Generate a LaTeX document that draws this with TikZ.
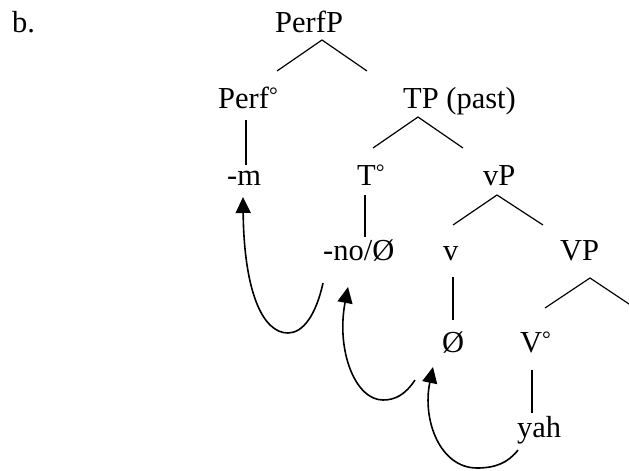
\documentclass[tikz,border=0pt]{standalone}
\usepackage{fontspec}
\setmainfont{Liberation Serif}
\usepackage{graphicx}
\usetikzlibrary{arrows.meta}
\newcommand{\dg}{\raisebox{0.17em}{\scalebox{0.72}{°}}}
\begin{document}
\begin{tikzpicture}[x=1pt,y=-1pt,
  lab/.style={anchor=base west,inner sep=0pt,font=\fontsize{30.5}{36}\selectfont},
  br/.style={line width=1.2pt},
  mv/.style={line width=1.6pt,-{Triangle[length=16pt,width=15pt]}}]
\useasboundingbox (0,0) rectangle (629,471);
\clip (0,0) rectangle (629,471);
% labels
\node[lab] (b) at (12,32) {b.};
\node[lab] (PerfP) at (275,32) {PerfP};
\node[lab] (Perf) at (218,108) {Perf\dg};
\node[lab] (TP) at (403,108) {TP (past)};
\node[lab] (m) at (227,185) {-m};
\node[lab] (T) at (357,185) {T\dg};
\node[lab] (vP) at (483,185) {vP};
\node[lab] (no) at (323,260) {-no/Ø};
\node[lab] (v) at (443,260) {v};
\node[lab] (VP) at (560,260) {VP};
\node[lab] (vnull) at (442,352) {Ø};
\node[lab] (V) at (520,352) {V\dg};
\node[lab] (yah) at (517,437) {yah};
% branch coordinates
\coordinate (PerfPa) at (322,40);
\coordinate (PerfPl) at (277,71);
\coordinate (PerfPr) at (367,71);
\coordinate (TPa) at (418,117);
\coordinate (TPl) at (373,148);
\coordinate (TPr) at (463,148);
\coordinate (vPa) at (497,195);
\coordinate (vPl) at (453,225);
\coordinate (vPr) at (543,225);
\coordinate (VPa) at (590,278);
\coordinate (VPl) at (545,308);
\coordinate (VPr) at (635,308);
\draw[br] (PerfPl) -- (PerfPa) -- (PerfPr);
\draw[br] (TPl) -- (TPa) -- (TPr);
\draw[br] (vPl) -- (vPa) -- (vPr);
\draw[br] (VPl) -- (VPa) -- (VPr);
% unary lines
\coordinate (Perft) at (246,120); \coordinate (Perfb) at (246,165);
\coordinate (Tt) at (365,195); \coordinate (Tb) at (365,237);
\coordinate (vt) at (453,277); \coordinate (vb) at (453,320);
\coordinate (Vt) at (532,370); \coordinate (Vb) at (532,413);
\draw[br] (Perft) -- (Perfb);
\draw[br] (Tt) -- (Tb);
\draw[br] (vt) -- (vb);
\draw[br] (Vt) -- (Vb);
% movement arrows
\coordinate (a1s) at (323,283); \coordinate (a1b) at (288,333); \coordinate (a1t) at (243,197);
\coordinate (a2s) at (415,380); \coordinate (a2b) at (383,400); \coordinate (a2t) at (348,287);
\coordinate (a3s) at (518,450); \coordinate (a3b) at (477,468); \coordinate (a3t) at (433,367);
\draw[mv] (a1s) .. controls (316,315) and (303,333) .. (a1b) .. controls (262,333) and (244,290) .. (a1t);
\draw[mv] (a2s) .. controls (405,395) and (395,400) .. (a2b) .. controls (355,400) and (336,350) .. (a2t);
\draw[mv] (a3s) .. controls (508,463) and (495,468) .. (a3b) .. controls (440,468) and (422,420) .. (a3t);
\end{tikzpicture}
\end{document}
